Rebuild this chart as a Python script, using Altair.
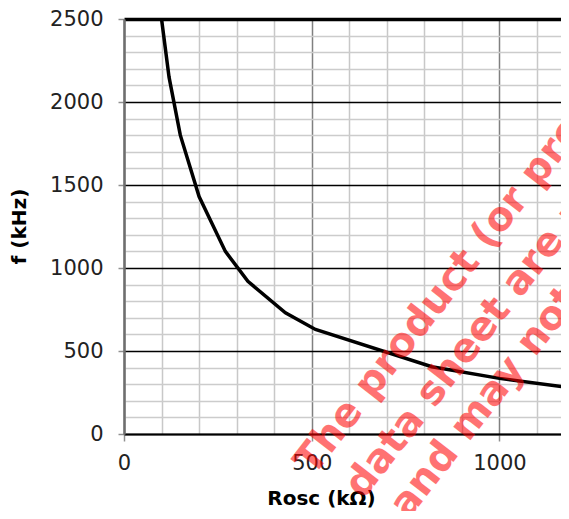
import altair as alt
import pandas as pd

# Curve: Rosc (kOhm) vs f (kHz)
rosc_kohm = [100, 120, 150, 200, 270, 330, 430, 510, 820, 1000, 1200]
freq_khz = [2500, 2150, 1800, 1430, 1100, 920, 730, 630, 405, 335, 276]

# Axis ticks
x_grid_values = list(range(0, 1200, 100))
y_grid_values = list(range(0, 2600, 100))

# Watermark lines and anchors (data units)
wm_lines = [
    "The product (or products) described in this",
    "data sheet are no longer in production",
    "and may not be available",
]
wm_x = [504, 637, 757]
wm_y = [-259, -398, -518]

curve = pd.DataFrame({"Rosc": rosc_kohm, "f": freq_khz})
wm = pd.DataFrame({"text": wm_lines, "x": wm_x, "y": wm_y})

FONT = "DejaVu Sans"

x_scale = alt.Scale(domain=[0, 1164], nice=False, zero=False)
y_scale = alt.Scale(domain=[0, 2500], nice=False)

x_axis = alt.Axis(
    values=x_grid_values,
    format="d",
    labelExpr="datum.value % 500 === 0 ? datum.label : ''",
    title="Rosc (kΩ)",
    titleFont=FONT, titleFontSize=20, titleFontWeight="bold", titleColor="#000",
    titleX=197, titleY=70, titleBaseline="alphabetic", titleAnchor="middle", titleAlign="center",
    labelFont=FONT, labelFontSize=21, labelColor="#222", labelPadding=11,
    labelFlush=False, labelOverlap=False,
    grid=True,
    gridColor=alt.condition("datum.value % 500 === 0", alt.value("#808080"), alt.value("#c8c8c8")),
    gridWidth=1.5,
    tickOpacity=alt.condition("datum.value % 500 === 0", alt.value(1), alt.value(0)),
    tickColor="#909090", tickSize=7, tickWidth=1.5,
    domainColor="#000", domainWidth=2.2,
)

y_axis = alt.Axis(
    values=y_grid_values,
    format="d",
    labelExpr="datum.value % 500 === 0 ? datum.label : ''",
    title="f (kHz)",
    titleFont=FONT, titleFontSize=20, titleFontWeight="bold", titleColor="#000",
    titleX=-99, titleY=207, titleBaseline="alphabetic", titleAngle=270, titleAlign="center",
    labelFont=FONT, labelFontSize=21, labelColor="#222", labelPadding=15,
    labelFlush=False, labelOverlap=False,
    grid=True,
    gridColor=alt.condition("datum.value % 500 === 0", alt.value("#000000"), alt.value("#cccccc")),
    gridWidth=alt.condition("datum.value === 2500", alt.value(3.5), alt.value(1.3)),
    tickOpacity=alt.condition("datum.value % 500 === 0", alt.value(1), alt.value(0)),
    tickColor="#909090", tickSize=6, tickWidth=1.5,
    domainColor="#6e6e6e", domainWidth=2.5,
)

line = alt.Chart(curve).mark_line(color="#000", strokeWidth=3.5, clip=True).encode(
    x=alt.X("Rosc:Q", scale=x_scale, axis=x_axis),
    y=alt.Y("f:Q", scale=y_scale, axis=y_axis),
)

watermark = alt.Chart(wm).mark_text(
    font=FONT, fontSize=40, fontWeight="bold", color="#ff0000", opacity=0.55,
    angle=308, align="left", baseline="alphabetic",
).encode(
    x=alt.X("x:Q", scale=x_scale, axis=x_axis),
    y=alt.Y("y:Q", scale=y_scale, axis=y_axis),
    text="text:N",
)

chart = alt.layer(line, watermark).properties(
    width=437,
    height=415,
    background="white",
    autosize=alt.AutoSizeParams(type="none"),
    padding={"left": 116, "top": 11, "right": 0, "bottom": 77},
).configure_view(strokeWidth=0)

chart.save("out.html", embed_options={"renderer": "svg", "actions": False})
